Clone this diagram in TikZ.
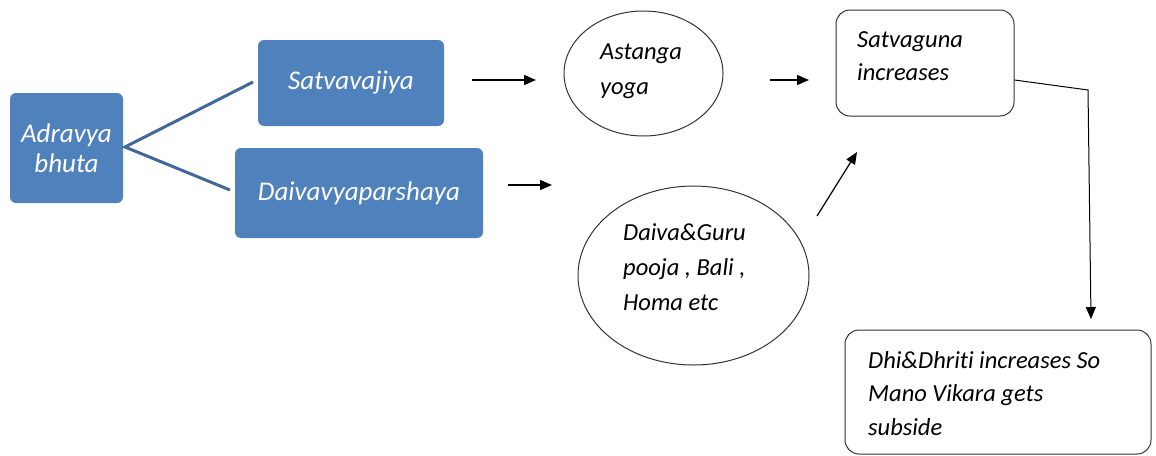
\documentclass[tikz,border=0pt]{standalone}
\usepackage{fontspec}
\setmainfont[Ligatures=NoCommon]{Carlito}
\usetikzlibrary{arrows.meta,shapes.geometric}
\definecolor{boxblue}{HTML}{4F81BD}
\definecolor{linkblue}{HTML}{41689A}
\begin{document}
\begin{tikzpicture}[x=1pt,y=-1pt,
  bluebox/.style={draw=none,fill=boxblue,rounded corners=6pt,text=white,font=\fontsize{27}{30}\selectfont\itshape,align=center,inner sep=0pt},
  whitebox/.style={draw=black!80,line width=1pt,rounded corners=14pt,inner sep=0pt},
  oval/.style={draw=black!80,line width=1pt,ellipse,inner sep=0pt},
  txt/.style={font=\fontsize{24.5}{35}\selectfont\itshape,align=left,anchor=base west,inner sep=0pt},
  arr/.style={-{Triangle[length=12pt,width=10pt]},line width=1.2pt,black},
  link/.style={line width=3pt,linkblue}]
\useasboundingbox (0,0) rectangle (1156,455);
% blue boxes
\node[bluebox,minimum width=113pt,minimum height=110pt] (adr) at (66.5,148) {Adravya\\bhuta};
\node[bluebox,minimum width=186pt,minimum height=86pt] (sat) at (351,83) {Satvavajiya};
\node[bluebox,minimum width=248pt,minimum height=90pt] (dai) at (359,193) {Daivavyaparshaya};
\coordinate (fork) at (125,147);
\coordinate (s1) at (253,82);
\coordinate (s2) at (230,190);
\draw[link] (s1) -- (fork) -- (s2);
% ellipses
\node[oval,minimum width=159pt,minimum height=125pt] (ast) at (643.5,73.5) {};
\node[txt] (astt) at (600,94) {Astanga\\yoga};
\node[oval,minimum width=231pt,minimum height=179pt] (dgp) at (693.5,275.5) {};
\node[txt] (dgpt) at (623,310) {Daiva\&Guru\\pooja , Bali ,\\Homa etc};
% white boxes
\node[whitebox,minimum width=178pt,minimum height=106pt] (sg) at (925,63) {};
\node[txt,font=\fontsize{24.5}{33}\selectfont\itshape] (sgt) at (857,80) {Satvaguna\\increases};
\node[whitebox,minimum width=306pt,minimum height=124pt] (dhi) at (998,392) {};
\node[txt,font=\fontsize{24.5}{33.5}\selectfont\itshape] (dhit) at (868,435) {Dhi\&Dhriti increases So\\Mano Vikara gets\\subside};
% arrows
\coordinate (a1s) at (472,80); \coordinate (a1e) at (536,80);
\draw[arr] (a1s) -- (a1e);
\coordinate (a2s) at (508,185); \coordinate (a2e) at (552,185);
\draw[arr] (a2s) -- (a2e);
\coordinate (a3s) at (770,80); \coordinate (a3e) at (809,80);
\draw[arr] (a3s) -- (a3e);
\coordinate (a4s) at (817,216); \coordinate (a4e) at (857,152);
\draw[arr] (a4s) -- (a4e);
\coordinate (bend) at (1088,90);
\coordinate (a5e) at (1091,319);
\draw[arr,line width=1pt] (sg.east |- 0,80) -- (bend) -- (a5e);
\end{tikzpicture}
\end{document}
